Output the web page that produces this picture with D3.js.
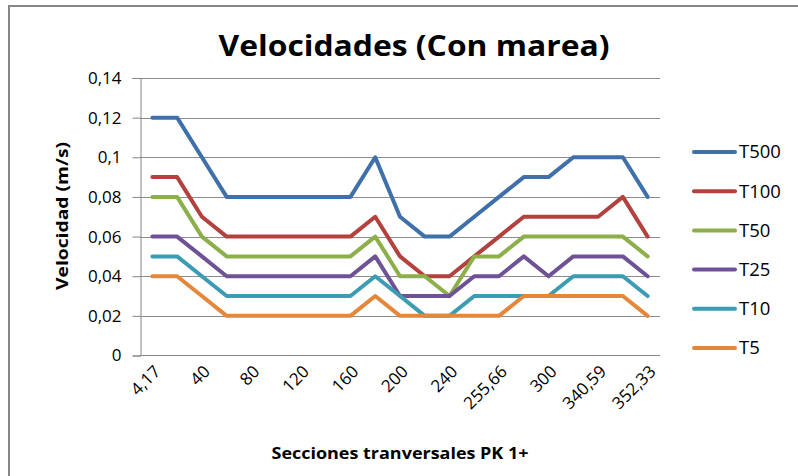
<!DOCTYPE html>
<html>
<head>
<meta charset="utf-8">
<script src="https://cdn.jsdelivr.net/npm/d3@7"></script>
<style>
  body { margin: 0; background: #fff; }
  svg text { font-family: "Open Sans", sans-serif; fill: #000; }
</style>
</head>
<body>
<div id="chart"></div>
<script>
// categories (only every second one gets a label on the axis)
const categories = ["4,17","20","40","60","80","100","120","140","160","180","200",
                    "220","240","250","255,66","280","300","320","340,59","345","352,33"];
const seriesNames = ["T500","T100","T50","T25","T10","T5"];
const t500 = [0.12,0.12,0.10,0.08,0.08,0.08,0.08,0.08,0.08,0.10,0.07,0.06,0.06,0.07,0.08,0.09,0.09,0.10,0.10,0.10,0.08];
const t100 = [0.09,0.09,0.07,0.06,0.06,0.06,0.06,0.06,0.06,0.07,0.05,0.04,0.04,0.05,0.06,0.07,0.07,0.07,0.07,0.08,0.06];
const t50  = [0.08,0.08,0.06,0.05,0.05,0.05,0.05,0.05,0.05,0.06,0.04,0.04,0.03,0.05,0.05,0.06,0.06,0.06,0.06,0.06,0.05];
const t25  = [0.06,0.06,0.05,0.04,0.04,0.04,0.04,0.04,0.04,0.05,0.03,0.03,0.03,0.04,0.04,0.05,0.04,0.05,0.05,0.05,0.04];
const t10  = [0.05,0.05,0.04,0.03,0.03,0.03,0.03,0.03,0.03,0.04,0.03,0.02,0.02,0.03,0.03,0.03,0.03,0.04,0.04,0.04,0.03];
const t5   = [0.04,0.04,0.03,0.02,0.02,0.02,0.02,0.02,0.02,0.03,0.02,0.02,0.02,0.02,0.02,0.03,0.03,0.03,0.03,0.03,0.02];
const yTicks = [0,0.02,0.04,0.06,0.08,0.10,0.12,0.14];

const width = 798, height = 476;
const colors = ["#3F70AA","#B3413E","#8CAF49","#6F5295","#3B9CB3","#E5873A"];
const allSeries = [t500, t100, t50, t25, t10, t5];

let svg = d3.select("#chart").append("svg")
  .attr("width", width)
  .attr("height", height);

// chart frame
svg.append("rect")
  .attr("x", 9).attr("y", 6)
  .attr("width", 800).attr("height", 480)
  .attr("fill", "none")
  .attr("stroke", "#868686")
  .attr("stroke-width", 2);

let x = d3.scaleBand().domain(categories).range([140, 660]);
let y = d3.scaleLinear().domain([0, 0.14]).range([355.5, 78]);
const cx = c => x(c) + x.bandwidth() / 2;

const fmt = d => d3.format(".2~f")(d).replace(".", ",");

// gridlines
svg.append("g")
  .selectAll("line")
  .data(yTicks.slice(1))
  .enter().append("line")
    .attr("x1", 140).attr("x2", 660)
    .attr("y1", d => Math.round(y(d)) + 0.5)
    .attr("y2", d => Math.round(y(d)) + 0.5)
    .attr("stroke", "#8c8c8c")
    .attr("stroke-width", 1);

// y axis
let yAxis = svg.append("g")
  .attr("transform", "translate(140.5,0)")
  .call(d3.axisLeft(y).tickValues(yTicks).tickFormat(fmt).tickSize(8).tickPadding(11));
yAxis.select(".domain").attr("stroke", "#868686");
yAxis.selectAll(".tick line").attr("stroke", "#868686");
yAxis.selectAll(".tick text")
  .style("font-size", "17px")
  .style("font-family", "'Open Sans', sans-serif");

// x axis
let xAxis = svg.append("g")
  .attr("transform", "translate(0,355.5)")
  .call(d3.axisBottom(x).tickSize(0)
    .tickFormat((d, i) => i % 2 === 0 ? d : ""));
xAxis.select(".domain").attr("stroke", "#868686").attr("d", "M140,0H660");
xAxis.selectAll(".tick text")
  .attr("text-anchor", "end")
  .attr("dy", "0.35em")
  .attr("transform", "translate(5,13) rotate(-45)")
  .attr("x", 0).attr("y", 0)
  .style("font-size", "17px")
  .style("font-family", "'Open Sans', sans-serif");

// series lines
let line = d3.line()
  .x((d, i) => cx(categories[i]))
  .y(d => y(d));

svg.append("g")
  .selectAll("path")
  .data(allSeries)
  .enter().append("path")
    .attr("d", d => line(d))
    .attr("fill", "none")
    .attr("stroke", (d, i) => colors[i])
    .attr("stroke-width", 4)
    .attr("stroke-linejoin", "round")
    .attr("stroke-linecap", "round");

// title
svg.append("text")
  .attr("x", 414).attr("y", 56)
  .attr("text-anchor", "middle")
  .attr("textLength", 391)
  .attr("lengthAdjust", "spacingAndGlyphs")
  .style("font-size", "28px")
  .style("font-weight", "bold")
  .text("Velocidades (Con marea)");

// axis titles
svg.append("text")
  .attr("x", 400).attr("y", 459)
  .attr("text-anchor", "middle")
  .attr("textLength", 257)
  .attr("lengthAdjust", "spacingAndGlyphs")
  .style("font-size", "16px")
  .style("font-weight", "bold")
  .text("Secciones tranversales PK 1+");

svg.append("text")
  .attr("transform", "translate(68,216) rotate(-90)")
  .attr("text-anchor", "middle")
  .attr("textLength", 148)
  .attr("lengthAdjust", "spacingAndGlyphs")
  .style("font-size", "16px")
  .style("font-weight", "bold")
  .text("Velocidad (m/s)");

// legend
let legend = svg.append("g")
  .selectAll("g")
  .data(seriesNames)
  .enter().append("g")
    .attr("transform", (d, i) => "translate(0," + (152 + i * 39.2) + ")");
legend.append("line")
  .attr("x1", 694).attr("x2", 735)
  .attr("stroke", (d, i) => colors[i])
  .attr("stroke-width", 4)
  .attr("stroke-linecap", "round");
legend.append("text")
  .attr("x", 739)
  .attr("dy", "0.35em")
  .style("font-size", "18.5px")
  .text(d => d);
</script>
</body>
</html>
